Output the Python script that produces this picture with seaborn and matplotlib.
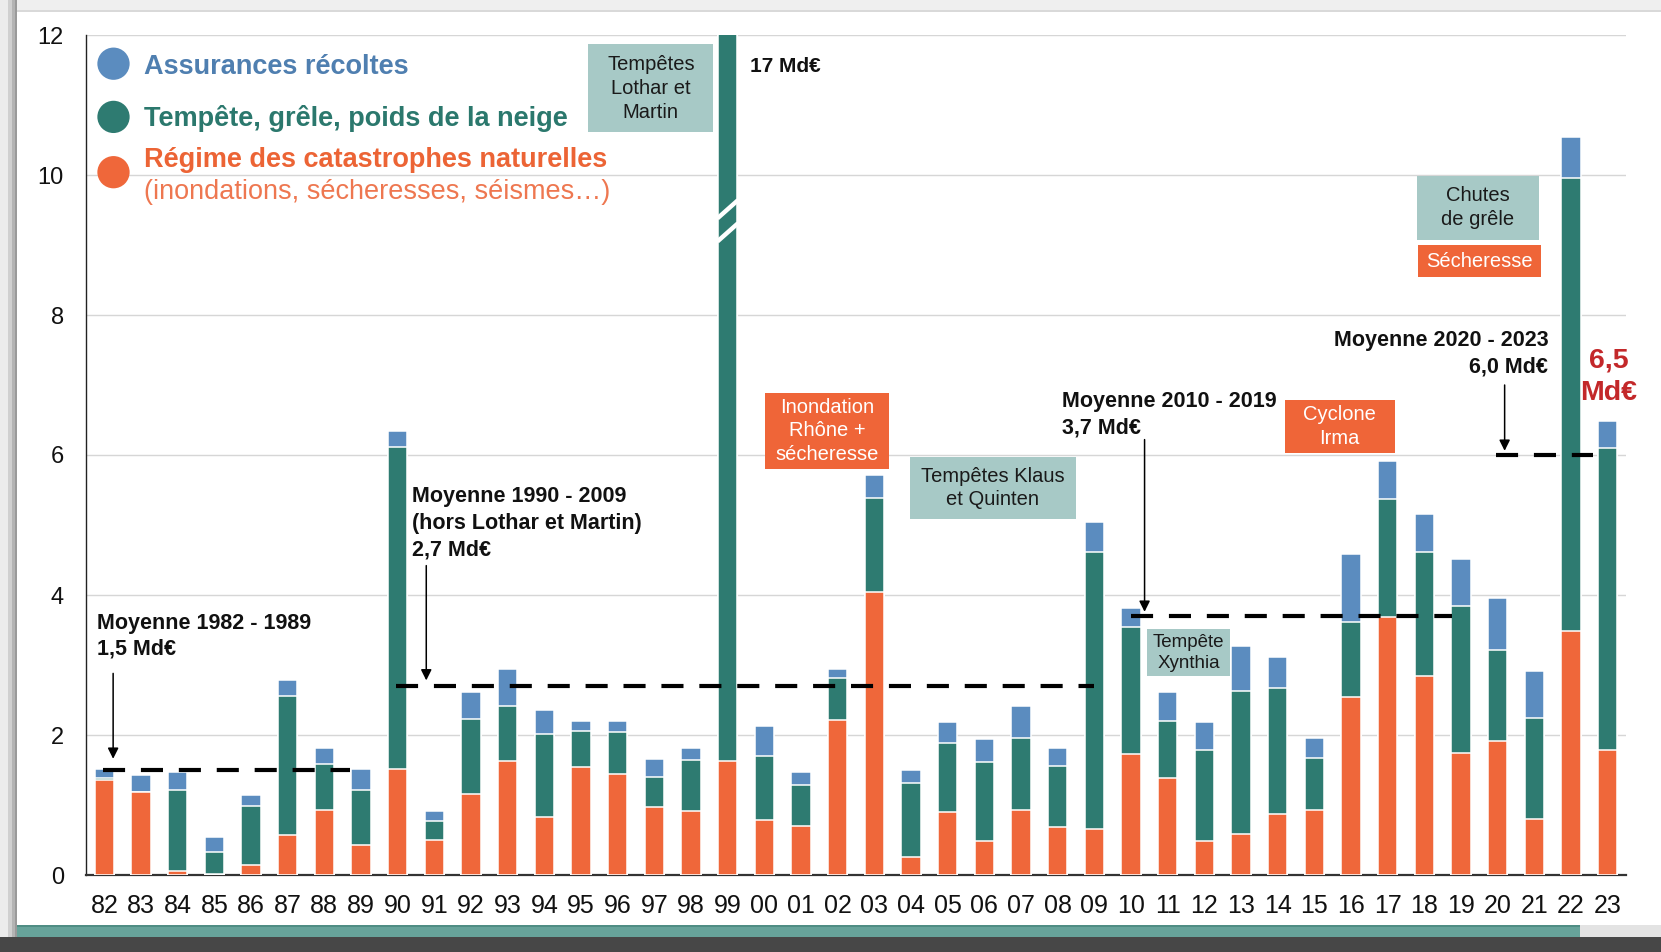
import numpy as np
import pandas as pd
import matplotlib
matplotlib.use("Agg")
import matplotlib.pyplot as plt
from matplotlib.patches import Rectangle
import seaborn as sns

# ---- data (Md€ per year) ----
years = ["82", "83", "84", "85", "86", "87", "88", "89", "90", "91", "92", "93",
         "94", "95", "96", "97", "98", "99", "00", "01", "02", "03", "04", "05",
         "06", "07", "08", "09", "10", "11", "12", "13", "14", "15", "16", "17",
         "18", "19", "20", "21", "22", "23"]
cat_nat = [1.36, 1.18, 0.06, 0.02, 0.15, 0.57, 0.93, 0.43, 1.51, 0.50, 1.16, 1.63,
           0.83, 1.54, 1.45, 0.97, 0.92, 1.63, 0.79, 0.70, 2.22, 4.04, 0.26, 0.90,
           0.48, 0.93, 0.69, 0.66, 1.73, 1.38, 0.49, 0.58, 0.87, 0.93, 2.54, 3.69,
           2.85, 1.74, 1.91, 0.80, 3.48, 1.78]
tempete = [0.02, 0.00, 1.16, 0.31, 0.83, 1.99, 0.66, 0.78, 4.60, 0.27, 1.07, 0.79,
           1.19, 0.52, 0.59, 0.43, 0.73, 15.37, 0.91, 0.58, 0.60, 1.35, 1.05, 0.99,
           1.14, 1.03, 0.87, 3.95, 1.81, 0.82, 1.30, 2.05, 1.80, 0.74, 1.07, 1.68,
           1.76, 2.11, 1.30, 1.44, 6.48, 4.32]
recoltes = [0.14, 0.25, 0.25, 0.21, 0.16, 0.22, 0.22, 0.30, 0.24, 0.15, 0.39, 0.52,
            0.34, 0.14, 0.16, 0.26, 0.17, 0.00, 0.43, 0.19, 0.13, 0.32, 0.19, 0.30,
            0.32, 0.45, 0.26, 0.43, 0.27, 0.42, 0.39, 0.64, 0.44, 0.29, 0.98, 0.55,
            0.55, 0.66, 0.75, 0.68, 0.59, 0.38]

avg_values = [1.5, 2.7, 3.7, 6.0]
avg_labels = ["Moyenne 1982 - 1989\n1,5 Md€",
              "Moyenne 1990 - 2009\n(hors Lothar et Martin)\n2,7 Md€",
              "Moyenne 2010 - 2019\n3,7 Md€",
              "Moyenne 2020 - 2023\n6,0 Md€"]
series_names = ["Assurances récoltes", "Tempête, grêle, poids de la neige",
                "Régime des catastrophes naturelles"]

BLUE = "#5b8cbf"
TEAL = "#2e7b71"
ORANGE = "#ef673a"
BOX_TEAL = "#a7c9c6"
BOX_ORANGE = "#ef6538"
DARK_RED = "#c3282a"

df = pd.DataFrame({"annee": years, "cat_nat": cat_nat,
                   "tempete": tempete, "recoltes": recoltes})
df["niv_tempete"] = df["cat_nat"] + df["tempete"]
df["total"] = df["niv_tempete"] + df["recoltes"]

sns.set_theme(style="white")
plt.rcParams["font.family"] = ["Liberation Sans", "DejaVu Sans"]

W, H = 1661, 952
fig = plt.figure(figsize=(W / 100, H / 100), dpi=100)
fig.patch.set_facecolor("white")


def fig_rect(x, y, w, h, color, z=0):
    # rectangle given in pixel units from the top-left corner of the figure
    fig.add_artist(Rectangle((x / W, 1 - (y + h) / H), w / W, h / H,
                             transform=fig.transFigure, facecolor=color,
                             edgecolor="none", zorder=z))


# slide frame
fig_rect(0, 0, W, 11, "#efefef")
fig_rect(0, 10, W, 2, "#d9d9d9")
fig_rect(0, 0, 8, H, "#ececec")
fig_rect(8, 0, 4, H, "#d0d0d0")
fig_rect(12, 0, 3, H, "#b4b4b4")
fig_rect(15, 0, 2, H, "#9a9a9a")
fig_rect(0, 937, W, 15, "#474747")
fig_rect(1580, 925, W - 1580, 12, "#e3e3e3")
fig_rect(17, 925, 1563, 12, "#67a39a")
fig_rect(17, 925, 1563, 2, "#4f8d84")

ax = fig.add_axes([86 / W, 1 - 875 / H, (1626 - 86) / W, (875 - 35) / H])
ax.set_facecolor("none")

bar_kw = dict(order=years, width=0.52, saturation=1, edgecolor="white",
              linewidth=1.1, ax=ax, zorder=3)
sns.barplot(data=df, x="annee", y="total", color=BLUE, **bar_kw)
sns.barplot(data=df, x="annee", y="niv_tempete", color=TEAL, **bar_kw)
sns.barplot(data=df, x="annee", y="cat_nat", color=ORANGE, **bar_kw)

ax.set_xlim(-0.5, 41.5)
ax.set_ylim(0, 12)
ax.set_yticks(np.arange(0, 13, 2))
ax.set_xlabel("")
ax.set_ylabel("")
ax.grid(axis="y", color="#d6d6d6", linewidth=1.0, zorder=0)
ax.set_axisbelow(True)
for s in ["top", "right"]:
    ax.spines[s].set_visible(False)
ax.spines["left"].set_color("#222222")
ax.spines["left"].set_linewidth(1.0)
ax.spines["bottom"].set_color("#333333")
ax.spines["bottom"].set_linewidth(1.6)
ax.tick_params(axis="y", labelsize=17, pad=16, length=0, labelcolor="#111111")
ax.tick_params(axis="x", labelsize=18, pad=14, length=0, labelcolor="#111111")

# break marks on the off-scale 1999 bar
i99 = years.index("99")
for y0 in (9.05, 9.38):
    ax.plot([i99 - 0.28, i99 + 0.28], [y0, y0 + 0.26], color="white",
            linewidth=3.2, solid_capstyle="butt", zorder=4, clip_on=False)
ax.text(i99 + 0.6, 11.55, "17 Md€", fontsize=15, fontweight="bold",
        color="#111111", va="center", ha="left")

# period averages
avg_spans = [(-0.05, 6.7), (7.95, 27.0), (28.0, 36.75), (37.95, 40.6)]
for v, (x0, x1) in zip(avg_values, avg_spans):
    ax.plot([x0, x1], [v, v], color="black", linewidth=3.0,
            dashes=(5.3, 3.8), zorder=5, solid_capstyle="butt")

arrows = [(0.24, 2.88, 1.66), (8.78, 4.42, 2.78), (28.37, 6.22, 3.76), (38.19, 7.0, 6.06)]
for xa, ys, ye in arrows:
    ax.annotate("", xy=(xa, ye), xytext=(xa, ys),
                arrowprops=dict(arrowstyle="-|>", color="black", lw=1.1,
                                mutation_scale=16, shrinkA=0, shrinkB=0),
                zorder=6)

avg_text_kw = dict(fontsize=15.5, fontweight="bold", color="#111111",
                   linespacing=1.33, zorder=6)
ax.text(-0.19, 3.75, avg_labels[0], ha="left", va="top", **avg_text_kw)
ax.text(8.4, 5.55, avg_labels[1], ha="left", va="top", **avg_text_kw)
ax.text(26.13, 6.91, avg_labels[2], ha="left", va="top", **avg_text_kw)
ax.text(39.38, 7.78, avg_labels[3], ha="right", va="top", **avg_text_kw)
ax.text(41.03, 7.12, "6,5\nMd€", ha="center", va="center", fontsize=20.5,
        fontweight="bold", color=DARK_RED, linespacing=1.35, zorder=6,
        clip_on=False)

# event boxes: (x0, x1, y0, y1, text, face, text colour, size)
events = [
    (13.20, 16.61, 10.61, 11.87, "Tempêtes\nLothar et\nMartin", BOX_TEAL, "#1a1a1a", 14.5),
    (18.03, 21.39, 5.80, 6.89, "Inondation\nRhône +\nsécheresse", BOX_ORANGE, "white", 14.5),
    (21.96, 26.49, 5.09, 5.97, "Tempêtes Klaus\net Quinten", BOX_TEAL, "#1a1a1a", 14.5),
    (28.45, 30.69, 2.84, 3.51, "Tempête\nXynthia", BOX_TEAL, "#1a1a1a", 13.5),
    (32.19, 35.19, 6.03, 6.79, "Cyclone\nIrma", BOX_ORANGE, "white", 14.5),
    (35.79, 39.12, 9.07, 9.99, "Chutes\nde grêle", BOX_TEAL, "#1a1a1a", 14.5),
    (35.82, 39.17, 8.54, 9.00, "Sécheresse", BOX_ORANGE, "white", 14.5),
]
for x0, x1, y0, y1, txt, fc, tc, fs in events:
    ax.add_patch(Rectangle((x0, y0), x1 - x0, y1 - y0, facecolor=fc,
                           edgecolor="none", zorder=6))
    ax.text((x0 + x1) / 2, (y0 + y1) / 2, txt, ha="center", va="center",
            fontsize=fs, color=tc, linespacing=1.32, zorder=7)

# legend
ax.scatter([0.25, 0.25, 0.25], [11.59, 10.83, 10.04], s=540,
           c=[BLUE, TEAL, ORANGE], linewidths=0, zorder=7, clip_on=False)
leg_kw = dict(fontsize=19.5, ha="left", va="center", zorder=7)
ax.text(1.09, 11.55, series_names[0], color="#4f7fb0", fontweight="bold", **leg_kw)
ax.text(1.09, 10.80, series_names[1], color="#2b786d", fontweight="bold", **leg_kw)
ax.text(1.09, 10.22, series_names[2], color="#ec6435", fontweight="bold", **leg_kw)
ax.text(1.09, 9.76, "(inondations, sécheresses, séismes…)", color="#ee7750", **leg_kw)

fig.savefig("out.png", dpi=100, facecolor=fig.get_facecolor())
